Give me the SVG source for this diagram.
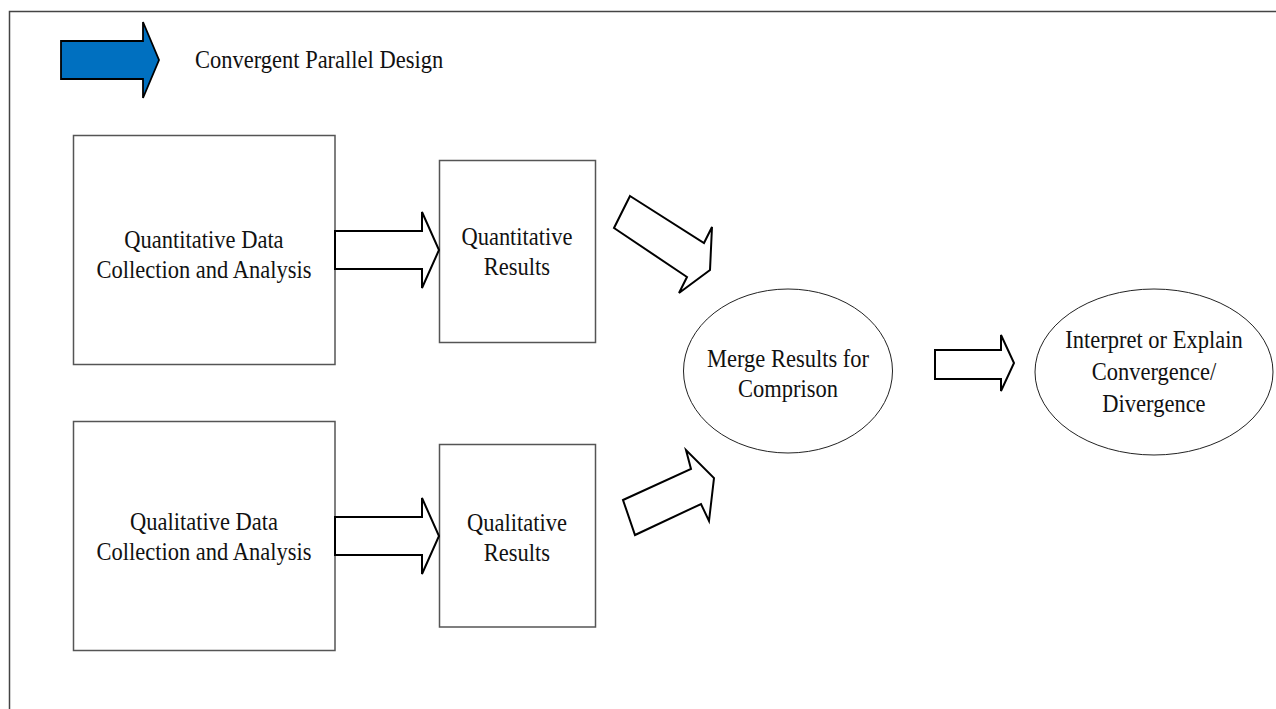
<svg xmlns="http://www.w3.org/2000/svg" width="1276" height="709" viewBox="0 0 1276 709">
  <style>
    .frame { fill: none; stroke: #444; stroke-width: 1.5; }
    .box { fill: #fff; stroke: #555; stroke-width: 1.5; }
    .oval { fill: #fff; stroke: #222; stroke-width: 1; }
    .arrow { fill: #fff; stroke: #000; stroke-width: 2; stroke-linejoin: miter; }
    .legend { fill: #0070C0; stroke: #000; stroke-width: 1.8; }
    text { font-family: "Liberation Serif", "Times New Roman", serif; font-size: 22.5px; fill: #111; }
    .c { text-anchor: middle; }
  </style>

  <rect width="1276" height="709" fill="#fff"/>

  <!-- page frame: top and left edges only -->
  <path class="frame" d="M9.5,709 V11.5 H1276"/>

  <!-- labels are drawn in a slightly tall face: y values are divided by 1.1 -->
  <g id="legend">
    <polygon class="legend" points="61,41 143,41 143,22 159,60 143,98 143,79 61,79"/>
    <g transform="scale(1,1.1)">
      <text x="195" y="61.8">Convergent Parallel Design</text>
    </g>
  </g>

  <g id="quant-collection">
    <rect class="box" x="73.5" y="135.5" width="261.5" height="229"/>
    <g transform="scale(1,1.1)">
      <text class="c" x="204" y="225.5">Quantitative Data</text>
      <text class="c" x="204" y="252.7">Collection and Analysis</text>
    </g>
  </g>

  <g id="qual-collection">
    <rect class="box" x="73.5" y="421.5" width="261.5" height="229"/>
    <g transform="scale(1,1.1)">
      <text class="c" x="204" y="481.8">Qualitative Data</text>
      <text class="c" x="204" y="509.1">Collection and Analysis</text>
    </g>
  </g>

  <g id="quant-results">
    <rect class="box" x="439.5" y="160.5" width="156" height="182"/>
    <g transform="scale(1,1.1)">
      <text class="c" x="517" y="222.7">Quantitative</text>
      <text class="c" x="517" y="250">Results</text>
    </g>
  </g>

  <g id="qual-results">
    <rect class="box" x="439.5" y="444.5" width="156" height="182.5"/>
    <g transform="scale(1,1.1)">
      <text class="c" x="517" y="482.7">Qualitative</text>
      <text class="c" x="517" y="510">Results</text>
    </g>
  </g>

  <g id="merge">
    <ellipse class="oval" cx="788" cy="371" rx="104.5" ry="82"/>
    <g transform="scale(1,1.1)">
      <text class="c" x="788" y="333.6">Merge Results for</text>
      <text class="c" x="788" y="360.9">Comprison</text>
    </g>
  </g>

  <g id="interpret">
    <ellipse class="oval" cx="1154" cy="372" rx="119" ry="83"/>
    <g transform="scale(1,1.1)">
      <text class="c" x="1154" y="316.4">Interpret or Explain</text>
      <text class="c" x="1154" y="345.5">Convergence/</text>
      <text class="c" x="1154" y="374.5">Divergence</text>
    </g>
  </g>

  <!-- block arrows between stages -->
  <g id="connectors">
    <polygon class="arrow" points="335,231 422,231 422,212 439,250 422,288 422,269 335,269"/>
    <polygon class="arrow" points="335,517 422,517 422,498 439,536 422,574 422,555 335,555"/>
    <polygon class="arrow" points="630,196 704,243 712,227 710,270 679,293 687,277 614,228"/>
    <polygon class="arrow" points="623,500 691,469 686,450 714,478 709,521 701,504 635,535"/>
    <polygon class="arrow" points="935,350 1001,350 1001,335 1014,363 1001,391 1001,379 935,379"/>
  </g>
</svg>
